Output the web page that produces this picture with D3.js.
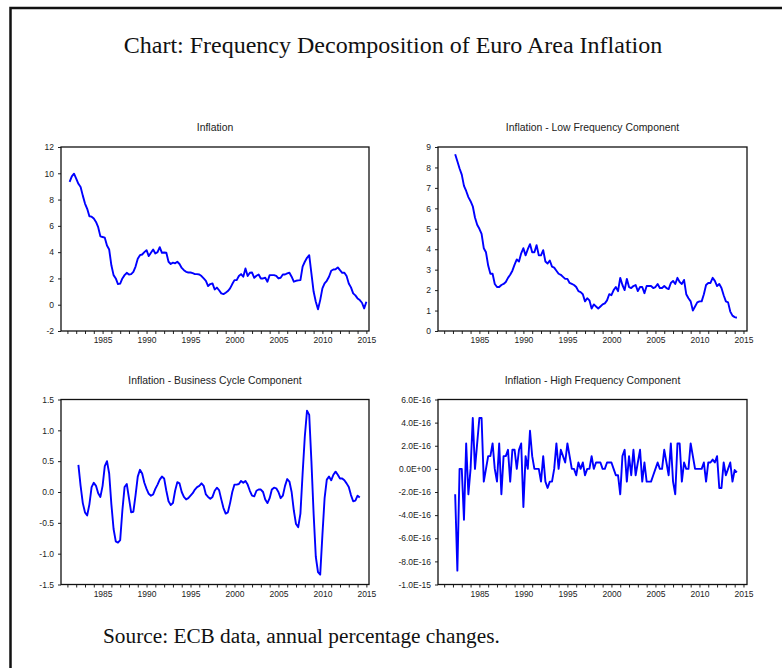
<!DOCTYPE html>
<html>
<head>
<meta charset="utf-8">
<script src="https://cdn.jsdelivr.net/npm/d3@7"></script>
<style>
  body { margin: 0; background: #fff; }
  svg { display: block; }
</style>
</head>
<body>
<svg id="chart" width="782" height="668"></svg>
<script>
// ---- Data: quarterly observations, annual % change ----
const inflationStart = 1981.25;   // first quarter of the headline series
const componentStart = 1982.25;   // filtered components lose the end quarters
const quarterStep = 0.25;

const inflation = [
  9.34, 9.77, 9.97, 9.6, 9.2, 8.96, 8.3, 7.7, 7.3, 6.73,
  6.7, 6.56, 6.3, 5.9, 5.2, 5.15, 5.1, 4.5, 4.2, 3.0,
  2.25, 2.0, 1.57, 1.6, 2.0, 2.25, 2.43, 2.3, 2.33, 2.5,
  2.9, 3.5, 3.77, 3.82, 4.0, 4.15, 3.7, 3.95, 4.2, 3.9,
  4.0, 4.38, 3.95, 3.97, 3.95, 3.27, 3.1, 3.2, 3.15, 3.27,
  3.1, 2.8, 2.63, 2.5, 2.45, 2.45, 2.4, 2.33, 2.33, 2.3,
  2.18, 2.0, 1.82, 1.42, 1.57, 1.62, 1.16, 1.3, 1.1, 0.86,
  0.81, 0.91, 1.04, 1.24, 1.57, 1.87, 1.87, 2.18, 2.33, 2.13,
  2.76, 2.18, 2.43, 2.45, 2.05, 2.2, 2.3, 2.0, 2.0, 2.05,
  1.75, 2.25, 2.25, 2.25, 2.2, 2.0, 2.05, 2.3, 2.3, 2.38,
  2.43, 2.13, 1.75, 1.82, 1.85, 1.87, 2.9, 3.27, 3.57, 3.77,
  2.38, 1.0, 0.23, -0.35, 0.35, 1.24, 1.62, 1.82, 2.13, 2.58,
  2.68, 2.7, 2.84, 2.63, 2.43, 2.43, 2.18, 1.62, 1.32, 0.86,
  0.71, 0.48, 0.35, 0.15, -0.28, 0.23
];

const lowFrequency = [
  8.65, 8.3, 7.95, 7.65, 7.1, 6.85, 6.55, 6.35, 6.1, 5.55,
  5.2, 5.0, 4.75, 4.05, 3.85, 3.2, 2.8, 2.8, 2.3, 2.15,
  2.15, 2.25, 2.3, 2.4, 2.6, 2.75, 2.95, 3.25, 3.5, 3.4,
  3.8, 4.05, 3.7, 4.0, 4.25, 3.85, 3.85, 4.2, 3.7, 3.7,
  3.95, 3.4, 3.3, 3.45, 3.15, 3.1, 2.95, 2.8, 2.75, 2.65,
  2.55, 2.55, 2.35, 2.3, 2.25, 2.15, 1.95, 1.9, 1.8, 1.45,
  1.6, 1.5, 1.1, 1.3, 1.2, 1.1, 1.2, 1.3, 1.35, 1.5,
  1.8, 1.75, 2.0, 2.15, 1.95, 2.6, 2.25, 2.0, 2.55, 2.15,
  2.1, 2.2, 2.25, 1.95, 2.15, 2.15, 1.85, 2.2, 2.2, 2.2,
  2.1, 2.15, 2.3, 2.1, 2.1, 2.2, 2.1, 2.05, 2.35, 2.45,
  2.3, 2.6, 2.4, 2.3, 2.5, 1.8, 1.6, 1.45, 1.0, 1.2,
  1.4, 1.45, 1.45, 1.8, 2.25, 2.35, 2.35, 2.6, 2.45, 2.2,
  2.3, 2.1, 1.75, 1.45, 1.4, 0.95, 0.75, 0.68, 0.65
];

const businessCycle = [
  0.44, 0.1, -0.18, -0.33, -0.38, -0.2, 0.08, 0.15, 0.1, -0.02,
  -0.08, 0.1, 0.42, 0.5, 0.3, -0.2, -0.6, -0.8, -0.82, -0.78,
  -0.3, 0.08, 0.13, -0.1, -0.33, -0.32, -0.05, 0.25, 0.36, 0.3,
  0.15, 0.05, -0.03, -0.06, -0.04, 0.05, 0.12, 0.2, 0.25, 0.22,
  0.02, -0.15, -0.21, -0.18, 0.02, 0.16, 0.14, 0.0, -0.08, -0.12,
  -0.1, -0.06, -0.02, 0.04, 0.08, 0.1, 0.14, 0.1, -0.04, -0.08,
  -0.11, -0.08, 0.02, 0.07, 0.03, -0.12, -0.26, -0.35, -0.33, -0.18,
  0.0, 0.12, 0.12, 0.13, 0.18, 0.15, 0.18, 0.12, 0.02, -0.06,
  -0.07, 0.02, 0.04, 0.04, 0.0, -0.12, -0.18, -0.1, 0.04, 0.07,
  0.06, 0.0, -0.1, -0.06, 0.1, 0.21, 0.17, 0.0, -0.3, -0.52,
  -0.57, -0.35, 0.3, 0.9, 1.32, 1.25, 0.5, -0.35, -1.05, -1.3,
  -1.34, -0.7, -0.1, 0.2, 0.25, 0.19, 0.28, 0.33, 0.28, 0.22,
  0.22, 0.19, 0.14, 0.08, -0.05, -0.15, -0.14, -0.06, -0.09
];

// high-frequency residual, in units of 1E-16
const highFrequencyE16 = [
  -2.2, -8.8, 0, 0, -4.4, 2.2, -2.2, 0, 4.4, 0,
  2.2, 4.4, 4.4, -1.1, 0, 1.1, 1.1, 2.2, 0, -1.1,
  2.2, -2.2, 1.1, 1.1, 1.65, -1.1, 1.65, 1.65, 0, 1.65,
  2.2, -3.3, 1.1, 0, 3.3, 1.1, 0, 0, 0, -1.1,
  1.1, -1.1, -1.65, -1.1, -1.1, 0, 2.2, 0, 1.65, 1.1,
  0.55, 2.2, 1.1, 0, 0, -0.55, 0.55, 0, 0.55, -0.55,
  0, 0, 1.1, 0, 0.55, 0.55, 0.55, 0, 0, 0.55,
  0.55, 0.55, 0, -0.55, -0.55, -2.2, 1.1, 1.65, -1.1, 1.1,
  -0.55, 1.65, -0.55, 0.55, 1.65, -1.1, 0.55, -1.1, -1.1, -1.1,
  -0.55, 0, 0.55, 0, 0, 1.65, 0.55, -0.55, 2.2, -1.1,
  -2.2, 2.2, 2.2, -1.1, 0.55, 0, 0, 2.2, 1.1, 0,
  0, 0, 0, 0.55, -1.1, 0.55, 0.55, 0.8, 0.55, 1.1,
  -1.65, -1.65, 0.55, -0.55, 0, 0.55, -1.1, -0.1, -0.3
];

// ---- Axis ticks and labels ----
const yearTicks = d3.range(1981, 2016);
const yearLabels = [1985, 1990, 1995, 2000, 2005, 2010, 2015];

const inflationTicks = [-2, 0, 2, 4, 6, 8, 10, 12];
const inflationTickLabels = ["-2", "0", "2", "4", "6", "8", "10", "12"];
const lowTicks = [0, 1, 2, 3, 4, 5, 6, 7, 8, 9];
const lowTickLabels = ["0", "1", "2", "3", "4", "5", "6", "7", "8", "9"];
const cycleTicks = [-1.5, -1.0, -0.5, 0.0, 0.5, 1.0, 1.5];
const cycleTickLabels = ["-1.5", "-1.0", "-0.5", "0.0", "0.5", "1.0", "1.5"];
const highTicks = [-10, -8, -6, -4, -2, 0, 2, 4, 6];
const highTickLabels = ["-1.0E-15", "-8.0E-16", "-6.0E-16", "-4.0E-16", "-2.0E-16",
                        "0.0E+00", "2.0E-16", "4.0E-16", "6.0E-16"];

const svg = d3.select("#chart");
const FONT = "'Liberation Sans', Arial, Helvetica, sans-serif";
const SERIF = "'Liberation Serif', 'Times New Roman', Times, serif";

svg.append("rect").attr("width", 782).attr("height", 668).attr("fill", "#fff");

// outer frame (left and top edges)
svg.append("path")
  .attr("d", "M10.5,668 L10.5,8 L782,8")
  .attr("fill", "none")
  .attr("stroke", "#111")
  .attr("stroke-width", 2.5);

svg.append("text")
  .attr("x", 393).attr("y", 53)
  .attr("text-anchor", "middle")
  .attr("font-family", SERIF)
  .attr("font-size", 24)
  .attr("fill", "#111")
  .text("Chart: Frequency Decomposition of Euro Area Inflation");

svg.append("text")
  .attr("x", 103).attr("y", 643)
  .attr("font-family", SERIF)
  .attr("font-size", 21.3)
  .attr("fill", "#111")
  .text("Source: ECB data, annual percentage changes.");

function drawPanel(p) {
  const x = d3.scaleLinear().domain(p.xDomain).range([p.left, p.right]);
  const y = d3.scaleLinear().domain(p.yDomain).range([p.bottom, p.top]);
  const g = svg.append("g");

  g.append("text")
    .attr("x", (p.left + p.right) / 2)
    .attr("y", p.top - 16)
    .attr("text-anchor", "middle")
    .attr("font-family", FONT)
    .attr("font-size", 10.4)
    .attr("fill", "#222")
    .text(p.title);

  const labelOf = new Map(p.yTicks.map((v, i) => [v, p.yLabels[i]]));
  const yAxis = g.append("g")
    .attr("transform", `translate(${p.left},0)`)
    .call(d3.axisLeft(y).tickValues(p.yTicks).tickSize(3).tickPadding(4)
      .tickFormat(d => labelOf.get(d)));
  const xAxis = g.append("g")
    .attr("transform", `translate(0,${p.bottom})`)
    .call(d3.axisBottom(x).tickValues(yearTicks).tickSize(3).tickPadding(3)
      .tickFormat(d => yearLabels.includes(d) ? String(d) : ""));

  [yAxis, xAxis].forEach(a => {
    a.select(".domain").remove();
    a.selectAll(".tick line").attr("stroke", "#222").attr("stroke-width", 1);
    a.selectAll(".tick text")
      .attr("font-family", FONT)
      .attr("font-size", 8.5)
      .attr("fill", "#222");
  });

  g.append("rect")
    .attr("x", p.left).attr("y", p.top)
    .attr("width", p.right - p.left).attr("height", p.bottom - p.top)
    .attr("fill", "none")
    .attr("stroke", "#111")
    .attr("stroke-width", 1.3);

  const line = d3.line()
    .x((d, i) => x(p.start + i * quarterStep))
    .y(d => y(d));

  g.append("path")
    .datum(p.values)
    .attr("d", line)
    .attr("fill", "none")
    .attr("stroke", "#0000ff")
    .attr("stroke-width", 1.9)
    .attr("stroke-linejoin", "round");
}

const leftDomain = [1980.27, 2015.3];
const rightDomain = [1980.3, 2015.4];

drawPanel({
  title: "Inflation", values: inflation, start: inflationStart,
  left: 61, right: 369, top: 147, bottom: 331,
  xDomain: leftDomain, yDomain: [-2, 12],
  yTicks: inflationTicks, yLabels: inflationTickLabels
});
drawPanel({
  title: "Inflation - Low Frequency Component", values: lowFrequency, start: componentStart,
  left: 438, right: 747, top: 147, bottom: 331,
  xDomain: rightDomain, yDomain: [0, 9],
  yTicks: lowTicks, yLabels: lowTickLabels
});
drawPanel({
  title: "Inflation - Business Cycle Component", values: businessCycle, start: componentStart,
  left: 61, right: 369, top: 399.5, bottom: 584.5,
  xDomain: leftDomain, yDomain: [-1.5, 1.5],
  yTicks: cycleTicks, yLabels: cycleTickLabels
});
drawPanel({
  title: "Inflation - High Frequency Component", values: highFrequencyE16, start: componentStart,
  left: 438, right: 747, top: 399.5, bottom: 584.5,
  xDomain: rightDomain, yDomain: [-10, 6],
  yTicks: highTicks, yLabels: highTickLabels
});
</script>
</body>
</html>
